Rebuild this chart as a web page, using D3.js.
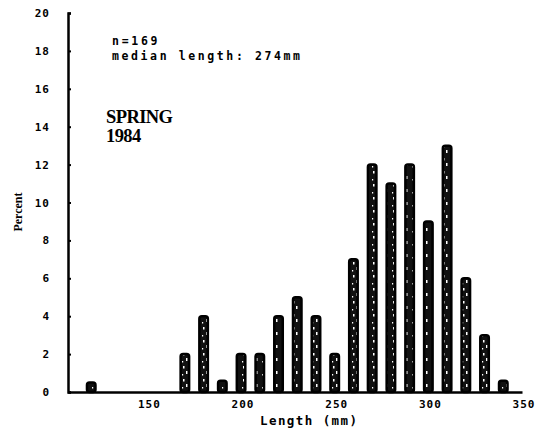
<!DOCTYPE html>
<html>
<head>
<meta charset="utf-8">
<script src="https://cdn.jsdelivr.net/npm/d3@7"></script>
<style>
  body { margin: 0; background: #fff; }
  svg { display: block; }
</style>
</head>
<body>
<svg id="chart" width="542" height="435"></svg>
<script>
"use strict"

// length bins (mm) and percent of fish in each bin
var bins = [120, 170, 180, 190, 200, 210, 220, 230, 240, 250, 260, 270, 280, 290, 300, 310, 320, 330, 340];
var percent = [0.5, 2, 4, 0.6, 2, 2, 4, 5, 4, 2, 7, 12, 11, 12, 9, 13, 6, 3, 0.6];

var yTicks = [0, 2, 4, 6, 8, 10, 12, 14, 16, 18, 20];
var xTicks = [150, 200, 250, 300, 350];

var noteLines = ["n=169", "median length: 274mm"];
var seasonLines = ["SPRING", "1984"];

var svg = d3.select("#chart");

var x = d3.scaleLinear().domain([107.6, 350]).range([68, 522]);
var y = d3.scaleLinear().domain([0, 20]).range([392, 13]);

var mono = "'DejaVu Sans Mono', monospace";

// speckled fill like the photocopied bars
var defs = svg.append("defs");
var pat = defs.append("pattern")
    .attr("id", "speck")
    .attr("patternUnits", "userSpaceOnUse")
    .attr("width", 10)
    .attr("height", 13);
pat.append("rect").attr("width", 10).attr("height", 13).attr("fill", "#111");
pat.append("rect").attr("x", 3).attr("y", 2).attr("width", 1.5).attr("height", 2.5).attr("fill", "#fff");
pat.append("rect").attr("x", 6).attr("y", 7).attr("width", 1.5).attr("height", 3).attr("fill", "#fff");
pat.append("rect").attr("x", 2).attr("y", 10).attr("width", 1.2).attr("height", 1.5).attr("fill", "#fff");

// bars
var bw = 8.5;
svg.append("g").selectAll("rect")
    .data(bins)
    .enter().append("rect")
    .attr("x", function(d) { return x(d) - bw / 2; })
    .attr("y", function(d, i) { return y(percent[i]); })
    .attr("width", bw)
    .attr("height", function(d, i) { return y(0) - y(percent[i]); })
    .attr("rx", 2.5)
    .attr("fill", "url(#speck)")
    .attr("stroke", "#000")
    .attr("stroke-width", 2.5);

// y axis
var yAxis = svg.append("g")
    .attr("transform", "translate(68,0)")
    .call(d3.axisRight(y).tickValues(yTicks).tickSize(3).tickFormat(""));
yAxis.select(".domain").attr("stroke-width", 2.5).attr("stroke", "#000");
yAxis.selectAll(".tick line").attr("stroke-width", 2).attr("stroke", "#000");

svg.append("g").selectAll("text")
    .data(yTicks)
    .enter().append("text")
    .attr("x", 50)
    .attr("y", function(d) { return y(d) + 4; })
    .attr("text-anchor", "end")
    .attr("font-family", mono)
    .attr("font-weight", "bold")
    .attr("font-size", 11)
    .attr("letter-spacing", 1)
    .text(function(d) { return d; });

// x axis
var xAxis = svg.append("g")
    .attr("transform", "translate(0,392)")
    .call(d3.axisBottom(x).tickValues(xTicks).tickSize(0).tickFormat(""));
xAxis.select(".domain").attr("stroke-width", 2.5).attr("stroke", "#000");

svg.append("g").selectAll("text")
    .data(xTicks)
    .enter().append("text")
    .attr("x", function(d) { return x(d) + 2; })
    .attr("y", 408)
    .attr("text-anchor", "middle")
    .attr("font-family", mono)
    .attr("font-weight", "bold")
    .attr("font-size", 11)
    .attr("letter-spacing", 1)
    .text(function(d) { return d; });

// axis titles
svg.append("text")
    .attr("x", 260)
    .attr("y", 425)
    .attr("font-family", mono)
    .attr("font-weight", "bold")
    .attr("font-size", 12.5)
    .attr("textLength", 97)
    .text("Length (mm)");

svg.append("text")
    .attr("transform", "translate(22,212) rotate(-90)")
    .attr("text-anchor", "middle")
    .attr("font-family", "'Liberation Serif', serif")
    .attr("font-weight", "bold")
    .attr("font-size", 12)
    .text("Percent");

// notes
svg.append("g").selectAll("text")
    .data(noteLines)
    .enter().append("text")
    .attr("x", 112)
    .attr("y", function(d, i) { return 45 + i * 15; })
    .attr("font-family", mono)
    .attr("font-weight", "bold")
    .attr("font-size", 11.5)
    .attr("textLength", function(d) { return d.length * 9.5 - 2; })
    .text(function(d) { return d; });

svg.append("g").selectAll("text")
    .data(seasonLines)
    .enter().append("text")
    .attr("x", 106)
    .attr("y", function(d, i) { return 123 + i * 19; })
    .attr("font-family", "'Liberation Serif', serif")
    .attr("font-weight", "bold")
    .attr("font-size", 18.5)
    .attr("letter-spacing", -0.6)
    .text(function(d) { return d; });
</script>
</body>
</html>
